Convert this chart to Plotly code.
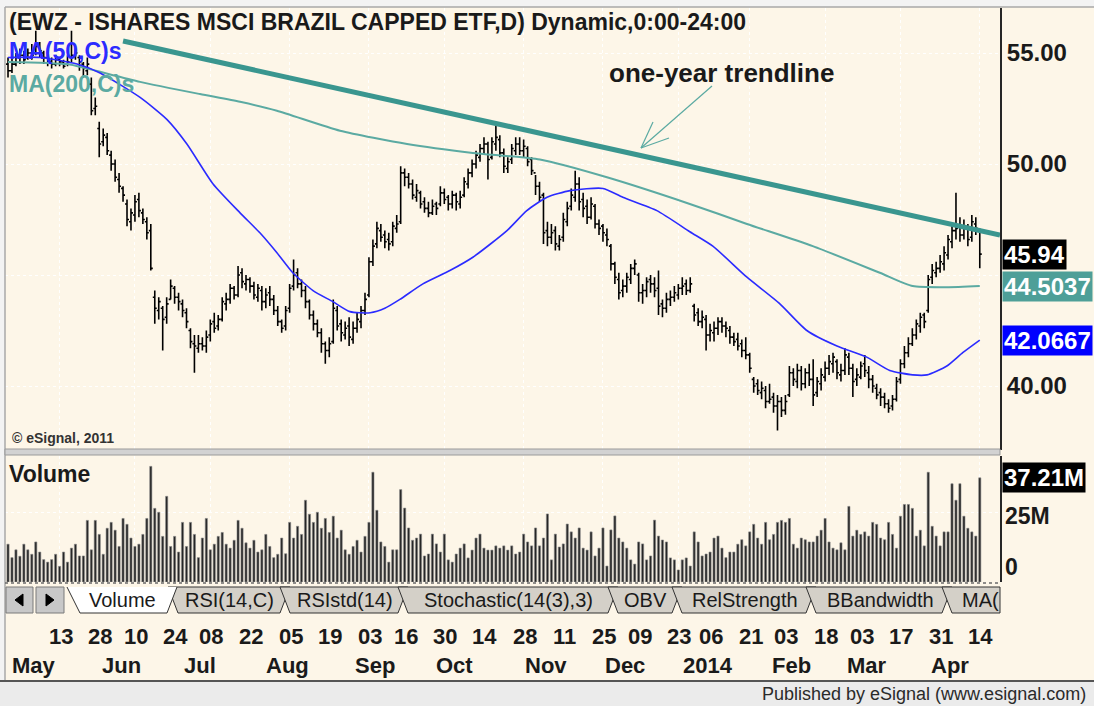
import plotly.graph_objects as go
import pandas as pd

# ---------------- DATA ----------------
opens = [
    54.5, 54.2, 54.5, 54.8, 54.9, 54.8, 55.0, 55.0, 55.3, 55.0,
    54.8, 54.6, 54.5, 54.7, 54.6, 54.5, 54.8, 54.9, 54.8, 54.5,
    54.2, 53.6, 52.5, 51.6, 51.0, 51.2, 50.4, 50.0, 49.3, 48.9,
    48.2, 47.4, 47.7, 48.4, 47.8, 47.4, 47.0, 44.0, 43.4, 43.5,
    43.1, 43.9, 44.4, 44.0, 43.7, 43.3, 42.5, 41.9, 41.7, 41.9,
    41.8, 42.3, 42.9, 42.7, 43.0, 43.7, 43.9, 44.4, 44.1, 45.1,
    44.6, 44.8, 44.5, 44.0, 44.3, 43.8, 44.2, 43.9, 43.4, 42.9,
    42.7, 43.5, 44.5, 45.1, 44.6, 44.3, 43.8, 43.2, 42.8, 42.4,
    41.9, 41.6, 42.0, 43.4, 42.8, 42.3, 42.7, 42.1, 42.6, 42.9,
    43.4, 44.1, 45.6, 46.4, 47.0, 46.8, 46.6, 46.5, 47.1, 47.4,
    49.6, 49.4, 49.1, 48.5, 48.7, 48.3, 48.0, 47.8, 48.2, 48.2,
    48.7, 48.5, 48.2, 48.6, 48.2, 48.6, 49.1, 49.6, 50.0, 50.3,
    50.7, 50.9, 50.3, 50.9, 51.1, 50.5, 49.8, 50.2, 50.6, 50.9,
    50.6, 50.7, 50.2, 49.6, 49.0, 48.6, 47.0, 46.7, 47.0, 46.3,
    46.7, 47.4, 48.1, 48.5, 49.1, 48.4, 48.1, 47.6, 48.1, 47.3,
    47.2, 46.8, 46.3, 45.5, 44.8, 44.3, 44.5, 44.8, 45.3, 45.0,
    44.2, 44.3, 44.8, 44.6, 44.4, 43.7, 43.5, 43.9, 44.0, 44.1,
    44.4, 44.6, 44.3, 43.6, 43.3, 42.9, 43.0, 42.3, 42.4, 42.6,
    42.9, 42.7, 42.5, 42.2, 42.1, 41.9, 41.6, 41.4, 40.3, 40.1,
    39.7, 39.8, 39.3, 39.5, 39.1, 39.3, 38.9, 39.6, 40.6, 40.2,
    40.7, 40.1, 40.6, 40.3, 39.7, 40.1, 40.4, 40.8, 41.0, 41.1,
    40.5, 40.7, 41.3, 40.8, 40.3, 40.4, 41.0, 40.6, 40.3, 39.9,
    39.7, 39.5, 39.2, 39.1, 39.4, 40.3, 41.0, 41.5, 41.9, 42.3,
    42.7, 43.2, 43.4, 44.9, 45.1, 45.3, 45.5, 45.9, 46.5, 47.0,
    47.2, 46.8, 47.1, 46.7, 47.3, 47.0,
]
highs = [
    54.8, 54.9, 55.0, 55.2, 55.1, 55.2, 55.4, 56.0, 55.5, 55.1,
    54.9, 54.8, 54.9, 54.8, 54.7, 54.9, 56.0, 55.2, 54.9, 54.6,
    54.8, 53.9, 53.0, 51.9, 51.6, 51.4, 50.6, 50.2, 49.6, 49.0,
    48.4, 48.0, 48.6, 48.7, 48.0, 47.6, 47.3, 44.3, 44.0, 43.6,
    44.0, 44.8, 44.5, 44.2, 43.9, 43.5, 42.6, 42.3, 42.3, 42.2,
    42.5, 43.0, 43.3, 43.2, 44.0, 44.2, 44.6, 44.5, 45.4, 45.3,
    45.0, 44.9, 44.7, 44.6, 44.5, 44.4, 44.5, 44.1, 43.6, 43.0,
    43.6, 44.6, 45.7, 45.3, 44.8, 44.5, 43.9, 43.4, 43.0, 42.6,
    42.0, 42.2, 43.9, 43.6, 43.0, 42.9, 43.1, 42.9, 43.3, 43.6,
    44.2, 45.8, 46.6, 47.4, 47.3, 47.0, 46.9, 47.4, 47.7, 49.9,
    49.8, 49.6, 49.3, 49.1, 48.8, 48.5, 48.3, 48.4, 48.3, 49.0,
    48.9, 48.6, 48.8, 48.7, 48.8, 49.4, 49.8, 50.2, 50.6, 50.9,
    51.2, 51.0, 51.2, 51.8, 51.3, 50.7, 50.3, 50.9, 51.2, 51.2,
    51.1, 50.8, 50.3, 49.5, 49.2, 48.7, 47.4, 47.3, 47.2, 46.8,
    47.8, 48.3, 48.9, 49.7, 49.4, 48.7, 48.4, 48.5, 48.2, 47.5,
    47.3, 47.1, 46.4, 45.6, 45.1, 44.8, 45.1, 45.5, 45.7, 45.1,
    44.6, 44.9, 45.0, 44.9, 45.2, 43.9, 44.2, 44.3, 44.5, 44.6,
    44.9, 44.8, 44.9, 43.7, 43.5, 43.4, 43.2, 42.8, 42.9, 43.1,
    43.1, 42.9, 42.7, 42.4, 42.4, 42.1, 42.2, 41.5, 40.4, 40.3,
    40.2, 40.0, 40.1, 39.7, 39.6, 39.5, 39.6, 40.9, 40.8, 41.0,
    40.9, 40.8, 41.0, 41.2, 40.4, 40.8, 41.1, 41.4, 41.5, 41.2,
    41.0, 41.7, 41.5, 41.0, 40.8, 41.1, 41.4, 40.9, 40.5, 40.1,
    39.9, 39.7, 39.4, 39.6, 40.4, 41.2, 41.8, 42.2, 42.6, 43.0,
    43.3, 43.3, 45.0, 45.5, 45.6, 45.9, 46.3, 46.8, 47.3, 48.7,
    47.6, 47.5, 47.3, 47.7, 47.6, 47.1,
]
lows = [
    53.9, 54.1, 54.4, 54.5, 54.5, 54.7, 54.7, 54.9, 54.8, 54.5,
    54.4, 54.3, 54.4, 54.4, 54.3, 54.4, 54.6, 54.7, 54.2, 53.9,
    54.0, 52.2, 52.2, 50.3, 50.8, 50.4, 49.7, 49.2, 48.7, 48.3,
    47.2, 47.0, 47.4, 47.6, 47.3, 46.6, 45.2, 42.8, 43.0, 41.6,
    42.8, 43.9, 43.7, 43.4, 43.1, 42.6, 41.7, 40.6, 41.5, 41.6,
    41.5, 42.0, 42.4, 42.5, 42.9, 43.4, 43.7, 43.9, 44.0, 44.4,
    44.3, 44.2, 43.9, 43.8, 43.4, 43.5, 43.6, 43.2, 42.7, 42.4,
    42.5, 43.3, 44.3, 44.4, 44.0, 43.5, 43.0, 42.5, 42.2, 41.5,
    41.0, 41.3, 41.9, 42.5, 42.0, 42.1, 41.8, 41.9, 42.4, 42.6,
    43.2, 44.0, 45.4, 46.2, 46.5, 46.2, 46.1, 46.3, 46.9, 47.3,
    49.0, 48.9, 48.4, 48.3, 48.0, 47.8, 47.6, 47.7, 47.7, 48.1,
    48.2, 47.9, 48.0, 47.9, 48.0, 48.5, 48.9, 49.4, 49.8, 50.1,
    50.4, 49.3, 50.2, 50.6, 50.3, 49.6, 49.6, 50.0, 50.4, 50.4,
    50.3, 49.9, 49.5, 48.6, 48.3, 46.4, 46.3, 46.4, 46.1, 46.1,
    46.5, 47.2, 47.9, 48.3, 47.9, 47.6, 47.3, 47.5, 47.1, 46.8,
    46.5, 46.3, 45.2, 44.6, 43.9, 44.0, 44.2, 44.6, 45.0, 43.8,
    43.7, 44.0, 44.2, 44.0, 43.2, 43.1, 43.3, 43.6, 43.8, 43.9,
    44.1, 44.1, 44.2, 42.9, 42.7, 42.6, 41.6, 42.0, 42.0, 42.3,
    42.4, 42.2, 41.9, 41.8, 41.6, 41.3, 41.2, 40.6, 39.7, 39.6,
    39.4, 39.0, 39.2, 38.8, 38.0, 38.6, 38.7, 39.5, 40.0, 39.9,
    39.8, 39.9, 40.0, 39.1, 39.5, 39.8, 40.2, 40.5, 40.6, 40.3,
    40.2, 40.5, 40.5, 39.5, 40.0, 40.3, 40.4, 39.9, 39.7, 39.4,
    39.1, 39.0, 38.8, 38.9, 39.3, 40.1, 40.8, 41.3, 41.8, 42.1,
    42.4, 42.6, 43.3, 44.6, 44.9, 45.1, 45.2, 45.7, 46.2, 46.6,
    46.5, 46.6, 46.3, 46.5, 46.8, 45.3,
]
closes = [
    54.2, 54.5, 54.8, 54.9, 54.7, 55.0, 54.9, 55.3, 55.1, 54.8,
    54.6, 54.5, 54.7, 54.6, 54.4, 54.6, 54.9, 55.0, 54.6, 54.3,
    54.5, 52.4, 52.6, 50.9, 51.3, 50.6, 50.0, 49.4, 49.0, 48.6,
    47.5, 47.8, 48.3, 47.9, 47.5, 46.9, 45.3, 43.5, 43.8, 43.0,
    43.7, 44.5, 44.0, 43.8, 43.4, 42.9, 42.0, 41.8, 41.9, 41.8,
    42.2, 42.8, 42.6, 43.0, 43.8, 43.9, 44.4, 44.1, 45.0, 44.7,
    44.8, 44.5, 44.1, 44.4, 43.8, 44.1, 43.9, 43.4, 42.9, 42.6,
    43.4, 44.4, 45.0, 44.6, 44.3, 43.8, 43.2, 42.8, 42.4, 41.9,
    41.6, 41.9, 43.5, 42.7, 42.4, 42.6, 42.2, 42.6, 43.0, 43.4,
    43.9, 45.6, 46.3, 47.1, 46.7, 46.5, 46.4, 47.2, 47.3, 49.6,
    49.4, 49.1, 48.6, 48.8, 48.2, 48.0, 47.8, 48.1, 48.0, 48.7,
    48.4, 48.2, 48.6, 48.3, 48.5, 49.2, 49.6, 50.0, 50.4, 50.7,
    50.9, 50.2, 51.0, 51.2, 50.5, 49.9, 50.1, 50.7, 50.9, 50.6,
    50.8, 50.1, 49.7, 49.0, 48.5, 46.9, 46.7, 46.9, 46.4, 46.6,
    47.5, 48.0, 48.6, 49.1, 48.3, 48.0, 47.6, 48.2, 47.3, 47.1,
    46.9, 46.6, 45.5, 44.9, 44.2, 44.5, 44.9, 45.3, 45.5, 44.2,
    44.3, 44.7, 44.6, 44.3, 43.6, 43.5, 43.9, 44.0, 44.2, 44.4,
    44.5, 44.3, 44.6, 43.2, 42.9, 43.1, 42.3, 42.5, 42.6, 42.9,
    42.7, 42.6, 42.2, 42.0, 41.8, 41.6, 41.4, 40.8, 40.0, 39.8,
    39.9, 39.3, 39.4, 39.1, 39.3, 38.9, 39.3, 40.6, 40.3, 40.7,
    40.1, 40.6, 40.3, 39.6, 40.2, 40.5, 40.8, 41.1, 41.3, 40.6,
    40.7, 41.4, 40.8, 40.2, 40.5, 40.9, 40.7, 40.3, 40.0, 39.6,
    39.5, 39.2, 39.0, 39.4, 40.2, 41.0, 41.5, 41.9, 42.3, 42.8,
    43.1, 42.9, 44.8, 45.2, 45.3, 45.6, 46.0, 46.6, 47.0, 47.1,
    46.8, 47.2, 46.6, 47.4, 47.1, 45.94,
]
# volume, millions of shares
volumes = [
    13.5, 8.7, 11.5, 9.2, 13.5, 11.5, 9.9, 14.3, 10.7, 8.0,
    7.1, 8.0, 9.9, 5.6, 10.7, 7.1, 12.1, 13.5, 9.3, 9.3,
    22.0, 11.5, 22.0, 17.0, 9.9, 19.2, 21.3, 18.5, 12.7, 22.7,
    20.6, 15.7, 12.7, 13.5, 17.0, 22.7, 41.3, 26.3, 24.9, 16.3,
    30.6, 12.7, 16.3, 10.7, 21.3, 12.7, 21.3, 17.0, 8.7, 15.7,
    22.7, 11.5, 13.5, 16.3, 17.7, 13.5, 12.1, 14.9, 22.0, 19.2,
    14.0, 12.1, 14.9, 10.7, 11.5, 17.0, 12.7, 8.7, 9.9, 15.7,
    10.1, 21.3, 15.7, 19.9, 17.0, 29.2, 24.2, 21.3, 24.9, 19.2,
    22.7, 17.7, 23.5, 15.7, 18.5, 11.5, 9.9, 12.7, 14.9, 10.7,
    16.3, 21.3, 39.2, 25.6, 14.3, 12.7, 7.1, 11.5, 11.5,
    33.0, 26.4, 19.3, 14.9, 15.7, 17.1, 9.3, 10.0, 17.1, 13.6,
    10.7, 17.1, 7.9, 7.1, 10.0, 12.1, 13.6, 8.6, 11.4, 15.7,
    17.1, 12.1, 11.4, 11.4, 12.9, 12.1, 12.9, 11.4, 12.9, 10.0,
    10.7, 17.1, 14.3, 12.9, 19.3, 12.9, 15.7, 24.3, 7.9, 17.1,
    12.5, 13.6, 20.7, 17.9, 15.7, 19.3, 12.1, 11.4, 17.9, 9.3,
    12.1, 19.3, 5.7, 18.6, 23.6, 15.7, 14.3, 12.1, 7.9, 6.4,
    14.3, 13.6, 7.9, 9.3, 22.1, 16.4, 15.0, 14.3, 8.6, 7.9,
    4.3, 7.9, 8.6, 5.7, 17.9, 14.3, 9.3, 10.0, 10.7, 15.7, 16.4,
    12.1, 8.7, 10.7, 10.7, 13.5, 15.1, 12.9, 17.9, 20.6, 15.7,
    13.5, 21.3, 15.1, 17.0, 21.3, 22.0, 21.3, 22.7, 13.5, 12.1,
    15.7, 15.1, 14.3, 14.3, 16.4, 18.5, 22.7, 14.3, 12.1, 11.5,
    14.0, 11.5, 27.0, 16.4, 18.5, 17.0, 17.9, 16.4, 21.3, 20.6,
    15.7, 15.1, 21.3, 17.0, 12.1, 23.5, 27.7, 27.7, 26.3, 16.4,
    18.5, 12.9, 39.2, 19.9, 16.4, 12.9, 17.9, 17.9, 35.1, 29.2,
    35.1, 23.5, 19.2, 17.9, 16.4, 37.21,
]

# moving averages (bar position, value)
ma50_pos = [0, 8.1, 17.4, 23.2, 33.3, 40.1, 45.1, 51.7, 58.5, 63.5, 67.8, 71.8, 76.9, 81.9,
            86.2, 91.3, 95.0, 98.8, 104.6, 111.4, 117.2, 125.8, 130.8, 135.9, 141.7, 150.0,
            155.0, 163.6, 171.9, 177.7, 186.3, 194.6, 201.4, 209.0, 216.5, 222.3, 228.1,
            231.7, 236.7, 240.7, 245.0]
ma50_val = [54.8, 54.8, 54.5, 54.1, 53.0, 52.0, 50.9, 49.1, 47.8, 46.9, 46.0, 45.1, 44.3, 43.8,
            43.35, 43.3, 43.5, 43.9, 44.6, 45.2, 45.8, 47.0, 47.9, 48.5, 48.8, 48.9,
            48.5, 47.9, 46.95, 46.3, 44.9, 43.7, 42.5, 41.8, 41.3, 40.7, 40.5,
            40.5, 40.9, 41.5, 42.0667]
ma200_pos = [0, 14.9, 19.9, 33.3, 48.4, 58.5, 67.8, 83.7, 100.6, 117.2, 134.1, 151.0, 171.9,
             186.3, 202.9, 219.8, 228.1, 236.7, 245.0]
ma200_val = [54.6, 54.5, 54.3, 53.7, 53.15, 52.8, 52.4, 51.5, 50.9, 50.5, 50.2, 49.4, 48.2,
             47.3, 46.3, 45.1, 44.5, 44.45, 44.5037]
trend_pos = [29.0, 250.1]
trend_val = [55.54, 46.80]

price_ticks = [40, 45, 50, 55]
price_tick_text = ['40.00', '', '50.00', '55.00']

day_tick_dates = ['2013-05-13', '2013-05-28', '2013-06-10', '2013-06-24', '2013-07-08', '2013-07-22',
                  '2013-08-05', '2013-08-19', '2013-09-03', '2013-09-16', '2013-09-30', '2013-10-14',
                  '2013-10-28', '2013-11-11', '2013-11-25', '2013-12-09', '2013-12-23', '2014-01-06',
                  '2014-01-21', '2014-02-03', '2014-02-18', '2014-03-03', '2014-03-17', '2014-03-31',
                  '2014-04-14']
day_tick_text = ['13', '28', '10', '24', '08', '22', '05', '19', '03', '16', '30', '14', '28', '11',
                 '25', '09', '23', '06', '21', '03', '18', '03', '17', '31', '14']
month_dates = ['2013-05-01', '2013-06-03', '2013-07-01', '2013-08-01', '2013-09-03', '2013-10-01',
               '2013-11-01', '2013-12-02', '2014-01-02', '2014-02-03', '2014-03-03', '2014-04-01']
month_text = ['May', 'Jun', 'Jul', 'Aug', 'Sep', 'Oct', 'Nov', 'Dec', '2014', 'Feb', 'Mar', 'Apr']
grid_dates = ['2013-05-13', '2013-06-10', '2013-07-08', '2013-08-05', '2013-09-03', '2013-09-30',
              '2013-10-28', '2013-11-25', '2013-12-23', '2014-01-21', '2014-02-18', '2014-03-17',
              '2014-04-14']

tabs = ['RSI(14,C)', 'RSIstd(14)', 'Stochastic(14(3),3)', 'OBV', 'RelStrength', 'BBandwidth', 'MA(']

# ---------------- trading calendar ----------------
holidays = ['2013-05-27', '2013-07-04', '2013-09-02', '2013-11-28', '2013-12-25',
            '2014-01-01', '2014-01-20', '2014-02-17']
dates = [d.strftime('%Y-%m-%d') for d in pd.bdate_range('2013-04-24', '2014-04-14')]
dates = [d for d in dates if d not in holidays][-len(closes):]
bar_pos = list(range(len(dates)))
pos = {d: i for i, d in enumerate(dates)}

# ---------------- styling ----------------
W, H = 1094, 706
BG = '#FDF6E8'
FONT = 'Arial, Liberation Sans, Helvetica, sans-serif'
BLUE = '#2B2BFF'
TEAL = '#5BAAA2'
TEAL_DARK = '#3A968F'


def X(p):
    return p / W


def Y(p):
    return 1 - p / H


fig = go.Figure()
fig.add_trace(go.Scatter(x=ma200_pos, y=ma200_val, mode='lines', hoverinfo='skip',
                         line=dict(color=TEAL, width=2, shape='spline', smoothing=0.6),
                         xaxis='x', yaxis='y'))
fig.add_trace(go.Scatter(x=ma50_pos, y=ma50_val, mode='lines', hoverinfo='skip',
                         line=dict(color=BLUE, width=1.6, shape='spline', smoothing=0.6),
                         xaxis='x', yaxis='y'))
fig.add_trace(go.Scatter(x=trend_pos, y=trend_val, mode='lines', hoverinfo='skip',
                         line=dict(color=TEAL_DARK, width=5), xaxis='x', yaxis='y'))
fig.add_trace(go.Ohlc(x=bar_pos, open=opens, high=highs, low=lows, close=closes,
                      increasing=dict(line=dict(color='#000000', width=1.6)),
                      decreasing=dict(line=dict(color='#000000', width=1.6)),
                      tickwidth=0.5, xaxis='x', yaxis='y', hoverinfo='skip'))
fig.add_trace(go.Bar(x=bar_pos, y=volumes, width=0.55, hoverinfo='skip',
                     marker=dict(color='#262626', line=dict(color='#8a8a8a', width=0.6)),
                     xaxis='x2', yaxis='y2'))

grid_vals = [pos[d] for d in grid_dates]
xcommon = dict(domain=[X(5), X(1000)], range=[-0.76, 250.1], showticklabels=False,
               tickvals=grid_vals, showgrid=True, gridcolor='rgba(255,255,255,0.95)',
               griddash='dot', gridwidth=1, zeroline=False, ticks='', fixedrange=True)

fig.update_layout(
    width=W, height=H, margin=dict(l=0, r=0, t=0, b=0),
    paper_bgcolor=BG, plot_bgcolor=BG, showlegend=False, hovermode=False,
    font=dict(family=FONT),
    xaxis=dict(anchor='y', rangeslider=dict(visible=False), **xcommon),
    xaxis2=dict(anchor='y2', matches='x', **xcommon),
    yaxis=dict(domain=[Y(450), Y(8)], range=[37.117, 57.027], side='right', anchor='x',
               tickvals=price_ticks, ticktext=['<b>%s</b>' % t if t else '' for t in price_tick_text],
               tickfont=dict(size=24, color='#1a1a1a', family=FONT), ticks='',
               showline=True, linecolor='#262626', linewidth=2, mirror=False,
               showgrid=True, gridcolor='rgba(255,255,255,0.95)', griddash='dot',
               zeroline=False, fixedrange=True),
    yaxis2=dict(domain=[Y(582), Y(456)], range=[0, 45], side='right', anchor='x2',
                tickvals=[25], showticklabels=False, ticks='',
                showline=True, linecolor='#262626', linewidth=2,
                showgrid=True, gridcolor='rgba(255,255,255,0.95)', griddash='dot',
                zeroline=False, fixedrange=True),
)

ann = []


def txt(xp, yp, text, size, color='#1a1a1a', bold=True, xanchor='left', yanchor='middle', **kw):
    ann.append(dict(x=X(xp), y=Y(yp), xref='paper', yref='paper', text=('<b>%s</b>' % text) if bold else text,
                    showarrow=False, xanchor=xanchor, yanchor=yanchor,
                    font=dict(size=size, color=color, family=FONT), **kw))


txt(7, 22, '(EWZ - ISHARES MSCI BRAZIL CAPPED ETF,D) Dynamic,0:00-24:00', 23)
txt(7, 51, 'MA(50,C)s', 23, color=BLUE)
txt(7, 84, 'MA(200,C)s', 23, color=TEAL)
txt(721, 73, 'one-year trendline', 26, xanchor='center')
txt(10, 438, '© eSignal, 2011', 14, color='#333333')
txt(7, 474, 'Volume', 23)
txt(1088, 694, 'Published by eSignal (www.esignal.com)', 18, color='#2a2a2a', bold=False, xanchor='right')

# last-value boxes on the price scale
for val, label, bg in [(45.94, '45.94', '#000000'), (44.5037, '44.5037', '#4E9F98'),
                       (42.0667, '42.0667', '#0000FF')]:
    ann.append(dict(x=X(1002), xref='paper', y=val, yref='y', text='<b>%s</b>' % label,
                    showarrow=False, xanchor='left', yanchor='middle', bgcolor=bg, borderpad=1,
                    font=dict(size=24, color='#ffffff', family=FONT)))
# volume scale
ann.append(dict(x=X(1002), xref='paper', y=volumes[-1], yref='y2', text='<b>37.21M</b>',
                showarrow=False, xanchor='left', yanchor='middle', bgcolor='#000000', borderpad=1,
                font=dict(size=24, color='#ffffff', family=FONT)))
ann.append(dict(x=X(1003), xref='paper', y=25, yref='y2', text='<b>25M</b>', yshift=-4,
                showarrow=False, xanchor='left', yanchor='middle',
                font=dict(size=23, color='#1a1a1a', family=FONT)))
ann.append(dict(x=X(1003), xref='paper', y=0, yref='y2', text='<b>0</b>', yshift=0,
                showarrow=False, xanchor='left', yanchor='bottom',
                font=dict(size=23, color='#1a1a1a', family=FONT)))

# date scale
for d, t in zip(day_tick_dates, day_tick_text):
    ann.append(dict(x=pos[d], xref='x2', y=Y(636), yref='paper', text='<b>%s</b>' % t,
                    showarrow=False, xanchor='center', yanchor='middle', xshift=1,
                    font=dict(size=22, color='#1a1a1a', family=FONT)))
for d, t in zip(month_dates, month_text):
    ann.append(dict(x=pos[d], xref='x2', y=Y(665), yref='paper', text='<b>%s</b>' % t,
                    showarrow=False, xanchor='center', yanchor='middle', xshift=6,
                    font=dict(size=22, color='#1a1a1a', family=FONT)))

shapes = []


def rect(x0, y0, x1, y1, fill, line=None, lw=0, layer='above'):
    shapes.append(dict(type='rect', xref='paper', yref='paper', x0=X(x0), x1=X(x1), y0=Y(y1), y1=Y(y0),
                       fillcolor=fill, line=dict(color=line or fill, width=lw), layer=layer))


def seg(x0, y0, x1, y1, color, width=1, dash='solid'):
    shapes.append(dict(type='line', xref='paper', yref='paper', x0=X(x0), x1=X(x1), y0=Y(y0), y1=Y(y1),
                       line=dict(color=color, width=width, dash=dash), layer='above'))


def poly(points, fill, line='#333333', lw=1, close=True):
    path = 'M ' + ' L '.join('%f,%f' % (X(a), Y(b)) for a, b in points) + (' Z' if close else '')
    shapes.append(dict(type='path', xref='paper', yref='paper', path=path, fillcolor=fill,
                       line=dict(color=line, width=lw), layer='above'))


# window frame
rect(0, 0, W, 7, '#F3F3F3')
rect(0, 0, 5, 682, '#F3F3F3')
seg(5, 7, W, 7, '#A8A8A8', 1.5)
seg(5, 7, 5, 682, '#A8A8A8', 1.5)
# pane separator
rect(5, 449, 1000, 455, '#D2D2D2', '#9a9a9a', 1)
# bottom of volume pane
seg(5, 583, 1000, 583, '#6a6a6a', 1.5, 'dot')
# bottom status bar
rect(0, 682, W, H, '#EBEBEB')
seg(0, 681, W, 681, '#555555', 2)

# arrow for the trendline note
seg(712, 86, 641, 148, TEAL, 1.2)
seg(641, 148, 653, 122, TEAL, 1.2)
seg(641, 148, 669, 138, TEAL, 1.2)

# scroll buttons
rect(6, 587, 33, 613, '#C8C8C8', '#7A7A7A', 1)
rect(36, 587, 64, 613, '#C8C8C8', '#7A7A7A', 1)
poly([(15, 600), (23, 594), (23, 606)], '#000000', '#000000', 1)
poly([(46, 594), (46, 606), (54, 600)], '#000000', '#000000', 1)

# pane tabs
tab_edges = [(168, 290), (280, 408), (398, 618), (608, 682), (672, 816), (806, 952), (942, 1000)]
tab_text_x = [229, 345, 508, 645, 745, 880, 960]
for (a, b), label, tx in zip(tab_edges, tabs, tab_text_x):
    if b >= 1000:
        poly([(a, 587), (a + 10, 613), (1000, 613), (1000, 587)], '#D4D0C8')
    else:
        poly([(a, 587), (a + 10, 613), (b - 10, 613), (b, 587)], '#D4D0C8')
    txt(tx, 600, label, 20, color='#1a1a1a', bold=False,
        xanchor='left' if label == 'MA(' else 'center')
poly([(67, 587), (80, 613), (167, 613), (177, 587)], '#FFFFFF', '#333333', 1, close=False)
txt(122, 600, 'Volume', 20, bold=False, xanchor='center')

fig.update_layout(annotations=ann, shapes=shapes)

fig.write_html('out.html', config={'displayModeBar': False, 'staticPlot': True},
               post_script="document.body.style.margin='0';document.body.style.overflow='hidden';")
